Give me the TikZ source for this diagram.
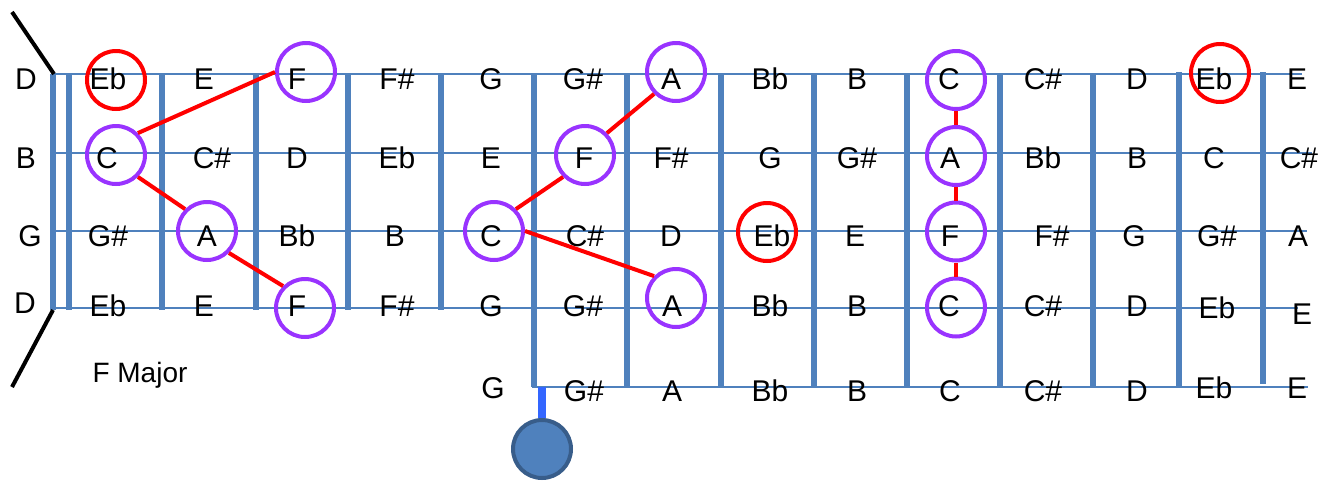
\documentclass[tikz,border=0pt]{standalone}
\usepackage{fontspec}
\setmainfont{Liberation Sans}
\definecolor{fretblue}{HTML}{4F81BD}
\definecolor{notepurple}{HTML}{9933FF}
\definecolor{notered}{HTML}{FF0000}
\definecolor{stemblue}{HTML}{3366FF}
\definecolor{knobedge}{HTML}{385D8A}
\tikzset{
  stringline/.style={draw=fretblue, line width=2.3pt},
  fretline/.style={draw=fretblue, line width=6pt},
  lbl/.style={anchor=base, inner sep=0pt, font=\fontsize{30}{36}\selectfont},
  ring/.style={circle, draw=notepurple, line width=4pt, minimum size=58pt, inner sep=0pt},
  redring/.style={ring, draw=notered},
  conn/.style={draw=notered, line width=4pt},
  headline/.style={draw=black, line width=4pt},
}
\begin{document}
\begin{tikzpicture}[x=1pt,y=-1pt]
\useasboundingbox (0,0) rectangle (1334,480);
% strings
\coordinate (s1a) at (53,74);  \coordinate (s1b) at (1302,74);
\coordinate (s2a) at (53,153); \coordinate (s2b) at (1312,153);
\coordinate (s3a) at (53,231); \coordinate (s3b) at (1307,231);
\coordinate (s4a) at (53,308); \coordinate (s4b) at (1298,308);
\coordinate (s5a) at (532,387); \coordinate (s5b) at (1308,387);
\draw[stringline] (s1a) -- (s1b);
\draw[stringline] (s2a) -- (s2b);
\draw[stringline] (s3a) -- (s3b);
\draw[stringline] (s4a) -- (s4b);
\draw[stringline] (s5a) -- (s5b);
% frets
\foreach \x [count=\i] in {53,69,162,256,348,441} {
  \draw[fretline] (\x,74) -- (\x,310);
}
\foreach \x [count=\i] in {534,627,721,814,907,1000,1093} {
  \draw[fretline] (\x,74) -- (\x,387);
}
\draw[fretline] (1179,72) -- (1179,387);
\draw[fretline] (1263,72) -- (1263,384);
% headstock lines
\coordinate (h1a) at (12,12); \coordinate (h1b) at (54,74);
\coordinate (h2a) at (53,310); \coordinate (h2b) at (12,387);
\draw[headline] (h1a) -- (h1b);
\draw[headline] (h2a) -- (h2b);
% knob
\node[circle, fill=fretblue, draw=knobedge, line width=4pt, minimum size=58pt, inner sep=0pt] (knob) at (542,449) {};
\coordinate (stemtop) at (542,387);
\draw[draw=stemblue, line width=8pt] (stemtop) -- (knob.north);
% labels row 1
\foreach \x/\t [count=\i] in {26/D,108/Eb,204/E,297/F,397/F\#,491/G,583/G\#,671/A,770/Bb,857/B,949/C,1043/C\#,1137/D,1214/Eb,1297/E} {
  \node[lbl] (ra\i) at (\x,89) {\t};
}
\foreach \x/\t [count=\i] in {26/B,107/C,212/C\#,297/D,397/Eb,491/E,584/F,671/F\#,770/G,857/G\#,950/A,1043/Bb,1137/B,1214/C,1299/C\#} {
  \node[lbl] (rb\i) at (\x,168) {\t};
}
\foreach \x/\t [count=\i] in {30/G,108/G\#,207/A,297/Bb,395/B,491/C,585/C\#,671/D,772/Eb,855/E,950/F,1052/F\#,1134/G,1217/G\#,1298/A} {
  \node[lbl] (rc\i) at (\x,246) {\t};
}
\foreach \x/\y/\t [count=\i] in {25/313/D,108/316/Eb,204/316/E,297/316/F,397/316/F\#,491/316/G,583/316/G\#,672/316/A,770/316/Bb,857/316/B,949/316/C,1043/316/C\#,1137/316/D,1217/318/Eb,1302/324/E} {
  \node[lbl] (rd\i) at (\x,\y) {\t};
}
\foreach \x/\y/\t [count=\i] in {493/398/G,584/401/G\#,672/401/A,770/401/Bb,857/401/B,950/401/C,1043/401/C\#,1137/401/D,1214/398/Eb,1297/398/E} {
  \node[lbl] (re\i) at (\x,\y) {\t};
}
\node[anchor=base, inner sep=0pt, font=\fontsize{28}{34}\selectfont] (title) at (140,382) {F Major};
% circles
\node[ring] (pF1) at (306,72) {};
\node[ring] (pC2) at (116,155) {};
\node[ring] (pA3) at (207,231) {};
\node[ring] (pF4) at (305,308) {};
\node[ring] (pC3b) at (494,231) {};
\node[ring] (pF2b) at (585,155) {};
\node[ring] (pA1) at (676,72) {};
\node[ring] (pA4) at (676,298) {};
\node[ring] (pC1c) at (956,80) {};
\node[ring] (pA2c) at (956,156) {};
\node[ring] (pF3c) at (956,231.5) {};
\node[ring] (pC4c) at (956,307.5) {};
\node[redring] (rEb1) at (116,80) {};
\node[redring] (rEb3) at (767,232) {};
\node[redring] (rEb1b) at (1220,73) {};
% connectors
\draw[conn] (pF1.west) -- (pC2.45);
\draw[conn] (pC2.-45) -- (pA3.135);
\draw[conn] (pA3.-45) -- (pF4.135);
\draw[conn] (pC3b.45) -- (pF2b.-135);
\draw[conn] (pF2b.45) -- (pA1.-135);
\draw[conn] (pC3b.east) -- (pA4.135);
\draw[conn] (pC1c.south) -- (pA2c.north);
\draw[conn] (pA2c.south) -- (pF3c.north);
\draw[conn] (pF3c.south) -- (pC4c.north);
\end{tikzpicture}
\end{document}
